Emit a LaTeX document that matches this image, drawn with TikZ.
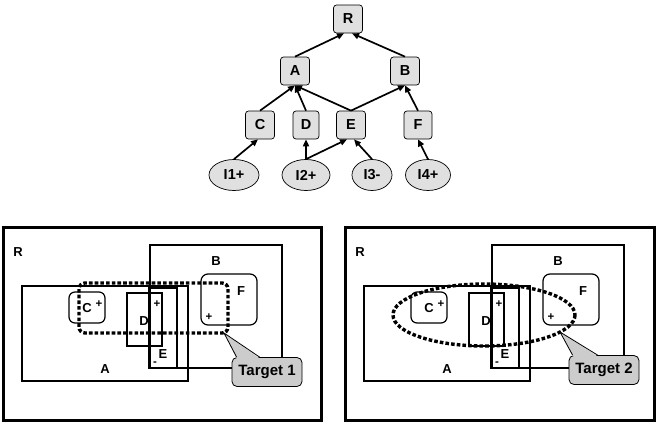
\documentclass[tikz,border=0pt]{standalone}
\usepackage{fontspec}
\setmainfont{Liberation Sans}
\usetikzlibrary{positioning,shapes.geometric,arrows.meta,calc}

\begin{document}
\begin{tikzpicture}[x=1pt,y=-1pt,>={Triangle[length=7pt,width=6pt]},font=\bfseries\fontsize{14.5}{14.5}\selectfont,
  cls/.style={draw,line width=0.7pt,rounded corners=3pt,fill=black!12,minimum width=29pt,minimum height=28pt,inner sep=0pt},
  inst/.style={draw,line width=0.7pt,ellipse,fill=black!12,minimum height=31pt,inner sep=0pt},
  link/.style={->,line width=1.7pt},
  region/.style={line width=1.2pt},
  lbl/.style={inner sep=0pt,font=\bfseries\fontsize{13}{13}\selectfont},
  sgn/.style={inner sep=0pt,font=\bfseries\fontsize{11.5}{11.5}\selectfont},
  target/.style={line width=3.4pt,dash pattern=on 3.6pt off 2.1pt},
  callbox/.style={draw,line width=0.8pt,rounded corners=5pt,fill=black!20,minimum width=70pt,minimum height=29pt,inner sep=0pt,font=\bfseries\fontsize{15}{15}\selectfont}]
\useasboundingbox[fill=white] (0,0) rectangle (656,423);
% hierarchy
\node[cls] (R) at (348,19) {R};
\node[cls] (A) at (295,71) {A};
\node[cls] (B) at (405,71) {B};
\node[cls] (C) at (260,125) {C};
\node[cls,minimum width=26pt] (D) at (306,125) {D};
\node[cls] (E) at (351,125) {E};
\node[cls,minimum width=28pt] (F) at (418,125) {F};
\node[inst,minimum width=50pt] (I1) at (234,175) {I1+};
\node[inst,minimum width=48pt] (I2) at (306,175) {I2+};
\node[inst,minimum width=40pt] (I3) at (372,175) {I3-};
\node[inst,minimum width=45pt] (I4) at (428,175) {I4+};
\draw[link] (A.north) -- ([xshift=-4pt]R.south);
\draw[link] (B.north) -- ([xshift=4pt]R.south);
\draw[link] (C.north) -- (A.south);
\draw[link] (D.north) -- (A.south);
\draw[link] (E.north) -- (A.south);
\draw[link] (E.north) -- (B.south);
\draw[link] (F.north) -- (B.south);
\draw[link] (I1.north) -- ([xshift=-2pt]C.south);
\draw[link] (I2.north) -- (D.south);
\draw[link] (I2.north) -- ([xshift=-4pt]E.south);
\draw[link] (I3.north) -- ([xshift=3pt]E.south);
\draw[link] (I4.north) -- (F.south);
% the two regions
\draw[line width=3pt] (3,227) rectangle (321,420);
\draw[line width=3pt] (345,227) rectangle (654,420);
\foreach \dx/\nm in {0/L,342/M} {
  \begin{scope}[xshift=\dx pt]
    \draw[region] (150,245) rectangle (282,368);
    \draw[region] (22,286) rectangle (188,381);
    \draw[region,rounded corners=6pt] (69,292) rectangle (105,323);
    \draw[region] (127,293) rectangle (162,346);
    \draw[region] (149,288) rectangle (177,368);
    \draw[region,rounded corners=7pt] (201,274) rectangle (257,325);
    \node[lbl] (R\nm) at (18,252) {R};
    \node[lbl] (B\nm) at (216,261) {B};
    \node[lbl] (A\nm) at (105,369) {A};
    \node[lbl] (C\nm) at (87,308) {C};
    \node[lbl] (D\nm) at (144,321) {D};
    \node[lbl] (E\nm) at (163,354) {E};
    \node[lbl] (F\nm) at (241,291) {F};
    \node[sgn] (Cp\nm) at (99,304) {+};
    \node[sgn] (Ep\nm) at (157,304) {+};
    \node[sgn] (Em\nm) at (155,364) {-};
    \node[sgn] (Fp\nm) at (209,317) {+};
  \end{scope}
}
% targets
\draw[target,rounded corners=6pt] (79,283) rectangle (228,333);
\draw[target] (484,315) ellipse [x radius=91, y radius=31];
\coordinate (tip1) at (224,333);
\coordinate (tip2) at (560,332);
\node[callbox] (T1) at (267,372) {Target 1};
\node[callbox] (T2) at (604,370) {Target 2};
\fill[black!20] ([xshift=5pt,yshift=-1.2pt]T1.north west) -- (tip1) -- ([xshift=28pt,yshift=-1.2pt]T1.north west) -- cycle;
\draw[line width=0.8pt] ([xshift=5pt]T1.north west) -- (tip1) -- ([xshift=28pt]T1.north west);
\fill[black!20] ([xshift=4pt,yshift=-1.2pt]T2.north west) -- (tip2) -- ([xshift=29pt,yshift=-1.2pt]T2.north west) -- cycle;
\draw[line width=0.8pt] ([xshift=4pt]T2.north west) -- (tip2) -- ([xshift=29pt]T2.north west);
\end{tikzpicture}
\end{document}
